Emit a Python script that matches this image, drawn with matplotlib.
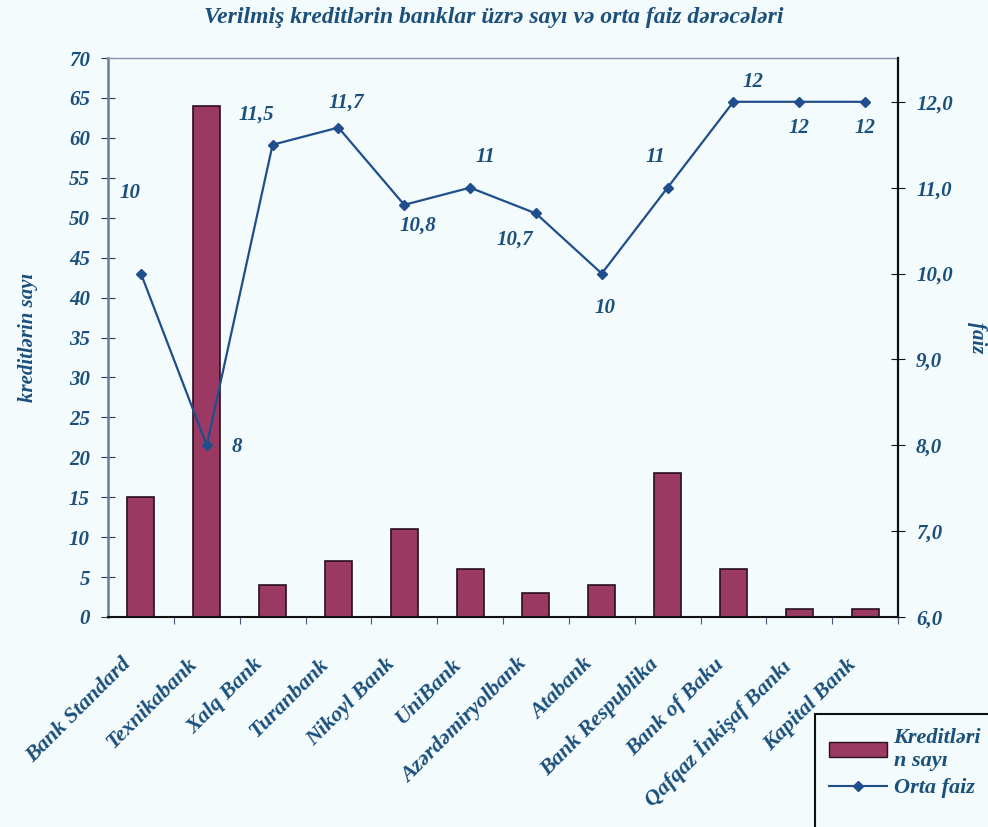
import matplotlib.pyplot as plt
import numpy as np

banks = ['Bank Standard', 'Texnikabank', 'Xalq Bank', 'Turanbank', 'Nikoyl Bank', 'UniBank',
         'Azərdəmiryolbank', 'Atabank', 'Bank Respublika', 'Bank of Baku',
         'Qafqaz İnkişaf Bankı', 'Kapital Bank']
kredit_sayi = [15, 64, 4, 7, 11, 6, 3, 4, 18, 6, 1, 1]
orta_faiz = [10, 8, 11.5, 11.7, 10.8, 11, 10.7, 10, 11, 12, 12, 12]
faiz_labels = ['10', '8', '11,5', '11,7', '10,8', '11', '10,7', '10', '11', '12', '12', '12']
# label offsets (points) for each line value
offsets = [(-8, 58), (22, -1), (-12, 22), (6, 18), (10, -15), (11, 22), (-15, -19),
           (2, -25), (-9, 22), (14, 14), (0, -19), (0, -19)]

txt = '#1b4f7c'
bg = '#f3fbfc'
font = dict(family='Liberation Serif', weight='bold', style='italic', color=txt)

fig = plt.figure(figsize=(9.88, 8.27), dpi=100, facecolor=bg)
ax = fig.add_axes([108/988, 1-617/827, 790/988, 559/827])
ax.set_facecolor(bg)
x = np.arange(len(banks))

ax.bar(x, kredit_sayi, width=0.41, color='#9a3a62', edgecolor='#2a1020', linewidth=1.2, zorder=2)
ax.set_xlim(-0.5, len(banks) - 0.5)
ax.set_ylim(0, 70)
ax.set_yticks(range(0, 71, 5))
ax.set_yticklabels([str(v) for v in range(0, 71, 5)], fontsize=15, **font)
ax.set_ylabel('kreditlərin sayı', fontsize=15, labelpad=22, **font)

ax.set_xticks(x + 0.5, minor=False)
ax.set_xticklabels([])
ax.tick_params(axis='x', direction='out', length=5, color='#555577')
ax.tick_params(axis='y', direction='inout', length=10, color='#333355', pad=8)
for i, b in enumerate(banks):
    ax.annotate(b, xy=(i, 0), xycoords=('data', 'axes fraction'), xytext=(-14, -27),
                textcoords='offset points', rotation=45, ha='right', va='top',
                rotation_mode='anchor', fontsize=16, **font)

ax.spines['left'].set_color('#6a7a9a')
ax.spines['left'].set_linewidth(1.8)
ax.spines['top'].set_color('#8a94b0')
ax.spines['top'].set_linewidth(1.0)
ax.spines['bottom'].set_color('#111111')
ax.spines['bottom'].set_linewidth(1.5)
ax.spines['right'].set_visible(False)

ax2 = ax.twinx()
ax2.plot(x, orta_faiz, color='#1f4e8c', linewidth=1.6, marker='D', markersize=5, zorder=3)
ax2.set_ylim(6, 12.51)
ax2.set_yticks(range(6, 13))
ax2.set_yticklabels([f'{v},0' for v in range(6, 13)], fontsize=15, **font)
ax2.set_ylabel('faiz', fontsize=15, labelpad=10, rotation=-90, va='bottom', **font)
ax2.tick_params(axis='y', direction='inout', length=10, color='#111111', pad=8)
ax2.spines['right'].set_color('#111111')
ax2.spines['right'].set_linewidth(1.6)
for s in ['left', 'top', 'bottom']:
    ax2.spines[s].set_visible(False)

for i, (v, lab) in enumerate(zip(orta_faiz, faiz_labels)):
    ax2.annotate(lab, xy=(i, v), xytext=offsets[i], textcoords='offset points',
                 ha='center', va='center', fontsize=15, **font)

fig.text(0.5, 1-18/827, 'Verilmiş kreditlərin banklar üzrə sayı və orta faiz dərəcələri',
         ha='center', va='center', fontsize=17, **font)

# legend box runs off the bottom-right corner of the image
box = plt.Rectangle((815/988, -0.05), 0.3, 0.05 + 113/827, transform=fig.transFigure,
                    facecolor=bg, edgecolor='#111111', linewidth=1.5, clip_on=False)
fig.patches.append(box)

h1 = plt.Rectangle((0, 0), 1, 1, facecolor='#9a3a62', edgecolor='#2a1020')
h2 = plt.Line2D([], [], color='#1f4e8c', marker='D', markersize=5)
leg = fig.legend([h1, h2], ['Kreditləri\nn sayı', 'Orta faiz'], loc='upper left',
                 bbox_to_anchor=(818/988, 1-717/827), frameon=False,
                 prop=dict(family='Liberation Serif', weight='bold', style='italic', size=16),
                 handlelength=2.6, handletextpad=0.3, borderpad=0.5, labelspacing=0.3,
                 borderaxespad=0)
for t in leg.get_texts():
    t.set_color(txt)

fig.savefig('out.png', dpi=100, facecolor=bg)
